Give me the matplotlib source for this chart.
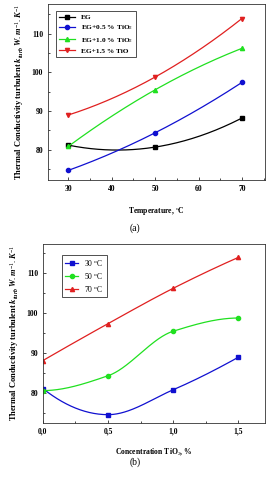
import matplotlib
matplotlib.use("Agg")
import matplotlib.pyplot as plt
import numpy as np
from matplotlib.ticker import MultipleLocator

plt.rcParams['font.family'] = ['Liberation Serif', 'DejaVu Serif']
plt.rcParams['mathtext.fontset'] = 'custom'
plt.rcParams['mathtext.rm'] = 'Liberation Serif'
plt.rcParams['mathtext.it'] = 'Liberation Serif:italic:bold'
plt.rcParams['mathtext.bf'] = 'Liberation Serif:bold'

# temperatures (deg C) and TiO2 concentrations (%)
temps = [30, 50, 70]
concs = [0.0, 0.5, 1.0, 1.5]

# k_turb values, one list per concentration, ordered by temperature
k_eg = [81.2, 80.7, 88.2]
k_05 = [74.7, 84.4, 97.4]
k_10 = [80.9, 95.5, 106.2]
k_15 = [89.0, 98.8, 113.9]

series_a = [
    ('EG', k_eg, 'black', 's'),
    ('EG+0.5 % TiO$_2$', k_05, '#1010d0', 'o'),
    ('EG+1.0 % TiO$_2$', k_10, '#20e020', '^'),
    ('EG+1.5 % TiO', k_15, '#e02020', 'v'),
]

table = np.array([k_eg, k_05, k_10, k_15])  # rows: conc, cols: temp
series_b = [
    ('30 $^{\\rm o}$C', table[:, 0], '#1010d0', 's'),
    ('50 $^{\\rm o}$C', table[:, 1], '#20e020', 'o'),
    ('70 $^{\\rm o}$C', table[:, 2], '#e02020', '^'),
]

ylab = ('Thermal Conductivity turbulent $k_{turb}$ '
        '$W.m^{-1}.K^{-1}$')


def smooth_poly(x, y):
    # smooth curve through 3 points (quadratic)
    x = np.asarray(x, float)
    coef = np.polyfit(x, y, len(x) - 1)
    xs = np.linspace(x.min(), x.max(), 200)
    return xs, np.polyval(coef, xs)


def smooth_pchip(x, y):
    # shape-preserving cubic through the points
    x = np.asarray(x, float)
    y = np.asarray(y, float)
    h = np.diff(x)
    delta = np.diff(y) / h
    n = len(x)
    d = np.zeros(n)
    for k in range(1, n - 1):
        if delta[k - 1] * delta[k] > 0:
            w1 = 2 * h[k] + h[k - 1]
            w2 = h[k] + 2 * h[k - 1]
            d[k] = (w1 + w2) / (w1 / delta[k - 1] + w2 / delta[k])

    def end(h0, h1, d0, d1):
        s = ((2 * h0 + h1) * d0 - h0 * d1) / (h0 + h1)
        if np.sign(s) != np.sign(d0):
            s = 0.0
        elif np.sign(d0) != np.sign(d1) and abs(s) > abs(3 * d0):
            s = 3 * d0
        return s

    d[0] = end(h[0], h[1], delta[0], delta[1])
    d[-1] = end(h[-1], h[-2], delta[-1], delta[-2])
    xs = np.linspace(x.min(), x.max(), 300)
    idx = np.clip(np.searchsorted(x, xs) - 1, 0, n - 2)
    t = (xs - x[idx]) / h[idx]
    h00 = 2 * t**3 - 3 * t**2 + 1
    h10 = t**3 - 2 * t**2 + t
    h01 = -2 * t**3 + 3 * t**2
    h11 = t**3 - t**2
    ys = (h00 * y[idx] + h10 * h[idx] * d[idx] + h01 * y[idx + 1]
          + h11 * h[idx] * d[idx + 1])
    return xs, ys


def style(ax):
    ax.tick_params(direction='in', which='both', labelsize=5.5, length=2.5,
                   width=0.5)
    ax.tick_params(which='minor', length=1.5)
    for lbl in ax.get_xticklabels() + ax.get_yticklabels():
        lbl.set_fontweight('bold')
    for sp in ax.spines.values():
        sp.set_linewidth(0.6)
        sp.set_color('#333333')


fig = plt.figure(figsize=(2.7, 4.8), dpi=100)

ax1 = fig.add_axes([0.178, 0.625, 0.803, 0.367])
for name, vals, col, mk in series_a:
    xs, ys = smooth_poly(temps, vals)
    ax1.plot(xs, ys, color=col, lw=0.9)
    ax1.plot(temps, vals, color=col, lw=0, marker=mk, ms=3)
    ax1.plot([], [], color=col, lw=0.9, marker=mk, ms=3, label=name)
ax1.set_xlim(25.3, 75.3)
ax1.set_ylim(72.2, 117.7)
ax1.xaxis.set_major_locator(MultipleLocator(10))
ax1.xaxis.set_minor_locator(MultipleLocator(5))
ax1.yaxis.set_major_locator(MultipleLocator(10))
ax1.yaxis.set_minor_locator(MultipleLocator(5))
ax1.set_xlabel('Temperature, $^{\\rm o}$C', fontsize=5.5, fontweight='bold',
               labelpad=9)
ax1.set_ylabel(ylab, fontsize=6, fontweight='bold', labelpad=4)
style(ax1)
leg = ax1.legend(loc='upper left', fontsize=5.3, frameon=True, fancybox=False,
                 edgecolor='black', handlelength=2.2, borderpad=0.4,
                 labelspacing=0.45, bbox_to_anchor=(0.02, 0.98))
leg.get_frame().set_linewidth(0.6)
for t in leg.get_texts():
    t.set_fontweight('bold')
fig.text(0.5, 1 - 228 / 480, '(a)', ha='center', va='center', fontsize=7)

ax2 = fig.add_axes([0.159, 0.119, 0.822, 0.373])
for name, vals, col, mk in series_b:
    xs, ys = smooth_pchip(concs, vals)
    ax2.plot(xs, ys, color=col, lw=0.9)
    ax2.plot(concs, vals, color=col, lw=0, marker=mk, ms=3)
    ax2.plot([], [], color=col, lw=0.9, marker=mk, ms=3, label=name)
ax2.set_xlim(0, 1.705)
ax2.set_ylim(72.65, 117.3)
ax2.xaxis.set_major_locator(MultipleLocator(0.5))
ax2.xaxis.set_minor_locator(MultipleLocator(0.25))
ax2.yaxis.set_major_locator(MultipleLocator(10))
ax2.yaxis.set_minor_locator(MultipleLocator(5))
ax2.set_xticks(concs)
ax2.set_xticklabels([f'{c:.1f}'.replace('.', ',') for c in concs])
ax2.set_xlabel('Concentration TiO$_2$, %', fontsize=5.5, fontweight='bold',
               labelpad=8)
ax2.set_ylabel(ylab, fontsize=6, fontweight='bold', labelpad=4)
style(ax2)
leg2 = ax2.legend(loc='upper left', fontsize=5.5, frameon=True, fancybox=False,
                  edgecolor='black', handlelength=1.7, borderpad=0.4,
                  labelspacing=0.4, bbox_to_anchor=(0.07, 0.96))
leg2.get_frame().set_linewidth(0.6)
fig.text(0.5, 1 - 462 / 480, '(b)', ha='center', va='center', fontsize=7)

fig.savefig('out.png', dpi=100)
